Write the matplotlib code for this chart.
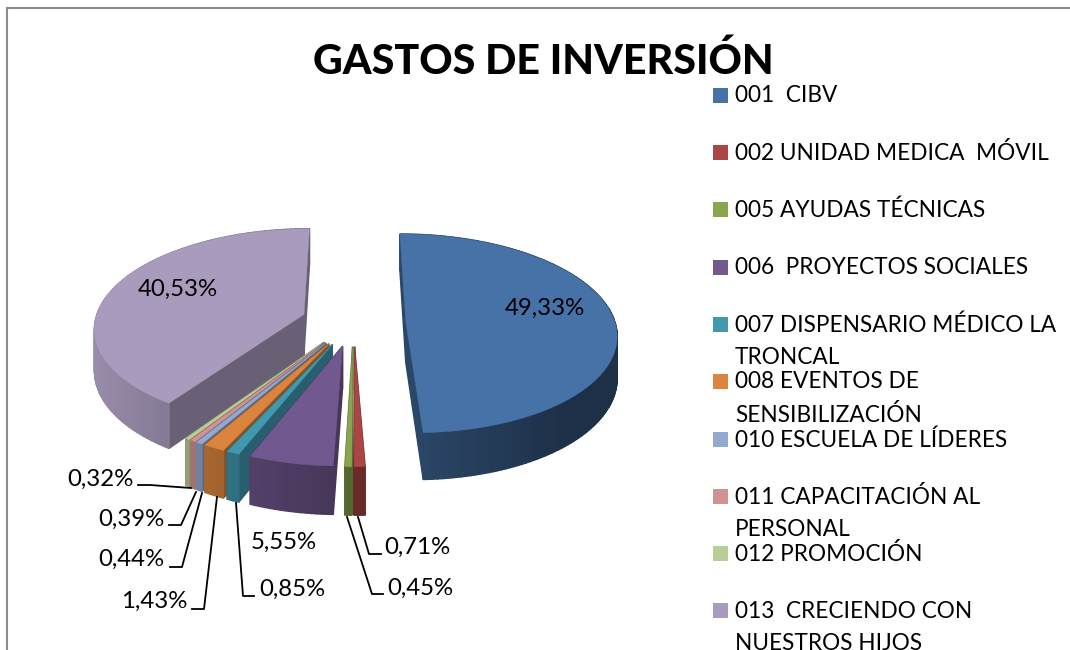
import numpy as np
import matplotlib
matplotlib.use("Agg")
import matplotlib.pyplot as plt
from matplotlib.patches import Polygon, Rectangle

# ---------- data ----------
title = "GASTOS DE INVERSIÓN"
categories = ["001  CIBV", "002 UNIDAD MEDICA  MÓVIL", "005 AYUDAS TÉCNICAS",
              "006  PROYECTOS SOCIALES", "007 DISPENSARIO MÉDICO LA\nTRONCAL",
              "008 EVENTOS DE\nSENSIBILIZACIÓN", "010 ESCUELA DE LÍDERES",
              "011 CAPACITACIÓN AL\nPERSONAL", "012 PROMOCIÓN",
              "013  CRECIENDO CON\nNUESTROS HIJOS"]
values = [49.33, 0.71, 0.45, 5.55, 0.85, 1.43, 0.44, 0.39, 0.32, 40.53]
colors = ["#4672A8", "#AA4643", "#89A54E", "#71588F", "#4198AF",
          "#DB843D", "#93A9CF", "#D19392", "#B9CD96", "#A99BBD"]

# ---------- layout ----------
CX, CY, RX, RY = 353.5, 321.5, 209, 98
PERSP, DEPTH, EXPLODE = 0.125, 41, 0.25
label_pos = [(545, 308), (417, 547), (420, 588), (284, 542), (292, 589),
             (154, 601), (131, 559), (131, 519), (100, 479), (178, 289)]
leaders = [None,
           [(358, 517), (369, 554), (381, 554)],
           [(347, 517), (372, 594), (383, 594)],
           None,
           [(236, 503), (243, 596), (254, 596)],
           [(217, 497), (204, 609), (192, 609)],
           [(202, 493), (182, 567), (170, 567)],
           [(196, 492), (181, 525), (169, 525)],
           [(191, 488), (150, 485), (138, 485)],
           None]
legend_y = [96, 153, 210, 268, 325, 382, 440, 497, 554, 611]
FONT = "Lato"

fig = plt.figure(figsize=(10.7, 6.5), dpi=100, facecolor="white")
ax = fig.add_axes([0, 0, 1, 1])
ax.set_xlim(0, 1070)
ax.set_ylim(650, 0)
ax.axis("off")

# chart frame
ax.plot([6.5, 6.5, 1070], [650, 8, 8], color="#8C8C8C", lw=1.5, solid_joinstyle="miter")


def project(X, Y, z=0.0):
    w = 1.0 / (1.0 + PERSP * Y)
    return CX + RX * X * w, CY - RY * Y * w + DEPTH * z * w


def shade(col, f):
    return tuple(np.clip(np.array(matplotlib.colors.to_rgb(col)) * f, 0, 1))


edges = np.concatenate([[0], np.cumsum(values)]) / sum(values) * 2 * np.pi
slices = []
for i, v in enumerate(values):
    a0, a1 = edges[i], edges[i + 1]
    mid = (a0 + a1) / 2
    ox, oy = EXPLODE * np.sin(mid), EXPLODE * np.cos(mid)
    slices.append((oy, i, a0, a1, ox))

# back-to-front painter's order
for oy0, i, a0, a1, ox in sorted(slices, key=lambda s: -s[0]):
    col = colors[i]
    n = max(3, int((a1 - a0) / 0.02))
    th = np.linspace(a0, a1, n)
    Xr, Yr = ox + np.sin(th), oy0 + np.cos(th)
    quads = []
    # radial walls
    for a in (a0, a1):
        Xe, Ye = ox + np.sin(a), oy0 + np.cos(a)
        P = [project(ox, oy0), project(Xe, Ye), project(Xe, Ye, 1), project(ox, oy0, 1)]
        quads.append(((oy0 + Ye) / 2, P, shade(col, 0.62)))
    # outer rim
    for j in range(n - 1):
        P = [project(Xr[j], Yr[j]), project(Xr[j + 1], Yr[j + 1]),
             project(Xr[j + 1], Yr[j + 1], 1), project(Xr[j], Yr[j], 1)]
        f = max(0.42, 0.62 - 0.3 * np.sin((th[j] + th[j + 1]) / 2))
        quads.append(((Yr[j] + Yr[j + 1]) / 2, P, shade(col, f)))
    for _, P, c in sorted(quads, key=lambda q: -q[0]):
        ax.add_patch(Polygon(P, closed=True, facecolor=c, edgecolor=c, lw=1.0, zorder=2))
    top = [project(ox, oy0)] + [project(x, y) for x, y in zip(Xr, Yr)]
    ax.add_patch(Polygon(top, closed=True, facecolor=col, edgecolor=col, lw=0.3, zorder=2))

# percent labels and leaders
for v, pos, ld in zip(values, label_pos, leaders):
    ax.text(pos[0], pos[1], f"{v:.2f}%".replace(".", ","), ha="center", va="center",
            fontsize=17.3, family=FONT, color="black", zorder=5)
    if ld:
        xs, ys = zip(*ld)
        ax.plot(xs, ys, color="black", lw=1.3, zorder=4)

# title
ax.text(543, 61, title, ha="center", va="center", fontsize=29.6,
        fontweight="black", family=FONT, color="black", zorder=5)

# legend
for name, c, y in zip(categories, colors, legend_y):
    ax.add_patch(Rectangle((713, y - 8.5), 15, 15, facecolor=c, edgecolor="none", zorder=5))
    for k, line in enumerate(name.split("\n")):
        ax.text(735, y + k * 33, line, ha="left", va="center", fontsize=16.3,
                family=FONT, color="black", zorder=5)

fig.savefig("out.png", dpi=100)
